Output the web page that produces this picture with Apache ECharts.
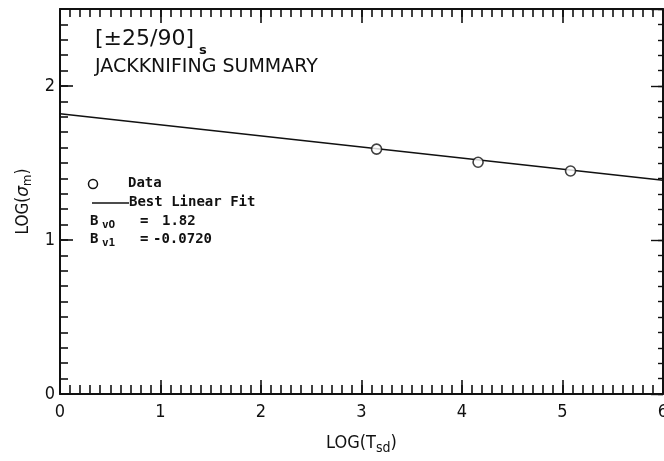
<!DOCTYPE html>
<html>
<head>
<meta charset="utf-8">
<script src="https://cdn.jsdelivr.net/npm/echarts@6/dist/echarts.min.js"></script>
<style>
html,body{margin:0;padding:0;background:#fff;}
#c{width:664px;height:461px;}
</style>
</head>
<body>
<div id="c"></div>
<script>
// ---- data ----
const dataX = [3.15, 4.16, 5.08];
const dataY = [1.59, 1.505, 1.448];
const fitX = [0, 6];
const fitY = [1.82, 1.388];
const xTickLabels = ['0', '1', '2', '3', '4', '5', '6'];
const yTickLabels = ['0', '1', '2'];
const titleLine1 = '[±25/90]';
const titleSub1 = 's';
const titleLine2 = 'JACKKNIFING SUMMARY';
const legendData = 'Data';
const legendFit = 'Best Linear Fit';
const coefLabels = ['B', 'B'];
const coefSubs = ['vO', 'v1'];
const coefEq = ['=', '='];
const coefValues = ['1.82', '-0.0720'];

const FONT = '"DejaVu Sans Condensed", "Liberation Sans Narrow", "DejaVu Sans", sans-serif';
const FONT2 = '"DejaVu Sans", sans-serif';
const MONO = '"DejaVu Sans Mono", "Liberation Mono", monospace';
const INK = '#111';

const chart = echarts.init(document.getElementById('c'), null, {renderer: 'canvas'});

function xa(extra) {
  return Object.assign({
    type: 'value', min: 0, max: 6,
    axisLine: {show: false, onZero: false},
    axisTick: {show: true, inside: true, lineStyle: {color: INK, width: 1.6}},
    axisLabel: {show: false},
    splitLine: {show: false}
  }, extra);
}
function ya(extra) {
  return Object.assign({
    type: 'value', min: 0, max: 2.5,
    axisLine: {show: false, onZero: false},
    axisTick: {show: true, inside: true, lineStyle: {color: INK, width: 1.6}},
    axisLabel: {show: false},
    splitLine: {show: false}
  }, extra);
}

const option = {
  backgroundColor: '#fff',
  animation: false,
  grid: {left: 60, right: 1, top: 9, bottom: 67, containLabel: false, outerBoundsMode: 'none'},
  xAxis: [
    xa({position: 'bottom', interval: 1,
      axisLine: {show: true, onZero: false, lineStyle: {color: INK, width: 2}},
      axisTick: {show: true, inside: true, length: 14, lineStyle: {color: INK, width: 1.6}},
      axisLabel: {show: true, margin: 9, color: INK, fontFamily: FONT, fontSize: 18,
        formatter: v => xTickLabels[Math.round(v)] !== undefined ? xTickLabels[Math.round(v)] : ''},
      name: '{a|LOG(T}{s|sd}{a|)}', nameLocation: 'middle', nameGap: 38,
      nameTextStyle: {rich: {
        a: {fontFamily: FONT, fontSize: 18, color: INK},
        s: {fontFamily: FONT, fontSize: 14, color: INK, padding: [9, 0, 0, 0]}
      }}
    }),
    xa({position: 'bottom', interval: 0.1, axisTick: {show: true, inside: true, length: 9, lineStyle: {color: INK, width: 1.6}}}),
    xa({position: 'top', interval: 0.1,
      axisLine: {show: true, onZero: false, lineStyle: {color: INK, width: 2}},
      axisTick: {show: true, inside: true, length: 8, lineStyle: {color: INK, width: 1.6}}}),
    xa({position: 'top', interval: 1, axisTick: {show: true, inside: true, length: 14, lineStyle: {color: INK, width: 1.6}}})
  ],
  yAxis: [
    ya({position: 'left', interval: 1,
      axisLine: {show: true, onZero: false, lineStyle: {color: INK, width: 2}},
      axisTick: {show: true, inside: true, length: 13, lineStyle: {color: INK, width: 1.6}},
      axisLabel: {show: true, margin: 5, color: INK, fontFamily: FONT, fontSize: 18, showMaxLabel: false,
        formatter: v => (Math.abs(v - Math.round(v)) < 1e-6 && yTickLabels[Math.round(v)] !== undefined) ? yTickLabels[Math.round(v)] : ''},
      name: '{a|LOG(}{g|σ}{s|m}{a|)}', nameLocation: 'middle', nameGap: 22, nameRotate: 90,
      nameTextStyle: {rich: {
        a: {fontFamily: FONT, fontSize: 17, color: INK},
        g: {fontFamily: FONT2, fontSize: 17, color: INK, fontStyle: 'italic'},
        s: {fontFamily: FONT, fontSize: 13, color: INK, padding: [8, 0, 0, 0]}
      }}
    }),
    ya({position: 'left', interval: 0.1, axisTick: {show: true, inside: true, length: 8, lineStyle: {color: INK, width: 1.6}}}),
    ya({position: 'right', interval: 0.1,
      axisLine: {show: true, onZero: false, lineStyle: {color: INK, width: 2}},
      axisTick: {show: true, inside: true, length: 5, lineStyle: {color: INK, width: 1.4}}}),
    ya({position: 'right', interval: 1, axisTick: {show: true, inside: true, length: 12, lineStyle: {color: INK, width: 1.4}}})
  ],
  series: [
    {
      name: 'fit', type: 'line', xAxisIndex: 0, yAxisIndex: 0,
      data: fitX.map((x, i) => [x, fitY[i]]),
      showSymbol: false, symbol: 'none',
      lineStyle: {color: INK, width: 1.6}, silent: true, z: 2
    },
    {
      name: 'data', type: 'scatter', xAxisIndex: 0, yAxisIndex: 0,
      data: dataX.map((x, i) => [x, dataY[i]]),
      symbol: 'circle', symbolSize: 10,
      itemStyle: {color: '#fff', borderColor: INK, borderWidth: 1.6}, z: 3
    }
  ],
  graphic: [
    {type: 'text', left: 95, top: 28, style: {text: titleLine1, font: '22px ' + FONT2, fill: INK}},
    {type: 'text', left: 199, top: 44, style: {text: titleSub1, font: 'bold 13px ' + FONT2, fill: INK}},
    {type: 'text', left: 95, top: 58, style: {text: titleLine2, font: '19px ' + FONT2, fill: INK}},
    {type: 'circle', shape: {cx: 93, cy: 184, r: 4.5}, style: {fill: 'none', stroke: INK, lineWidth: 1.5}},
    {type: 'text', left: 128, top: 176, style: {text: legendData, font: 'bold 14px ' + MONO, fill: INK}},
    {type: 'line', shape: {x1: 92, y1: 203, x2: 129, y2: 203}, style: {stroke: INK, lineWidth: 1.3}},
    {type: 'text', left: 129, top: 195, style: {text: legendFit, font: 'bold 14px ' + MONO, fill: INK}},
    {type: 'text', left: 90, top: 214, style: {text: coefLabels[0], font: 'bold 14px ' + MONO, fill: INK}},
    {type: 'text', left: 102, top: 220, style: {text: coefSubs[0], font: 'bold 11px ' + MONO, fill: INK}},
    {type: 'text', left: 140, top: 214, style: {text: coefEq[0], font: 'bold 14px ' + MONO, fill: INK}},
    {type: 'text', left: 162, top: 214, style: {text: coefValues[0], font: 'bold 14px ' + MONO, fill: INK}},
    {type: 'text', left: 90, top: 232, style: {text: coefLabels[1], font: 'bold 14px ' + MONO, fill: INK}},
    {type: 'text', left: 102, top: 238, style: {text: coefSubs[1], font: 'bold 11px ' + MONO, fill: INK}},
    {type: 'text', left: 140, top: 232, style: {text: coefEq[1], font: 'bold 14px ' + MONO, fill: INK}},
    {type: 'text', left: 153, top: 232, style: {text: coefValues[1], font: 'bold 14px ' + MONO, fill: INK}}
  ]
};
chart.setOption(option);
</script>
</body>
</html>
